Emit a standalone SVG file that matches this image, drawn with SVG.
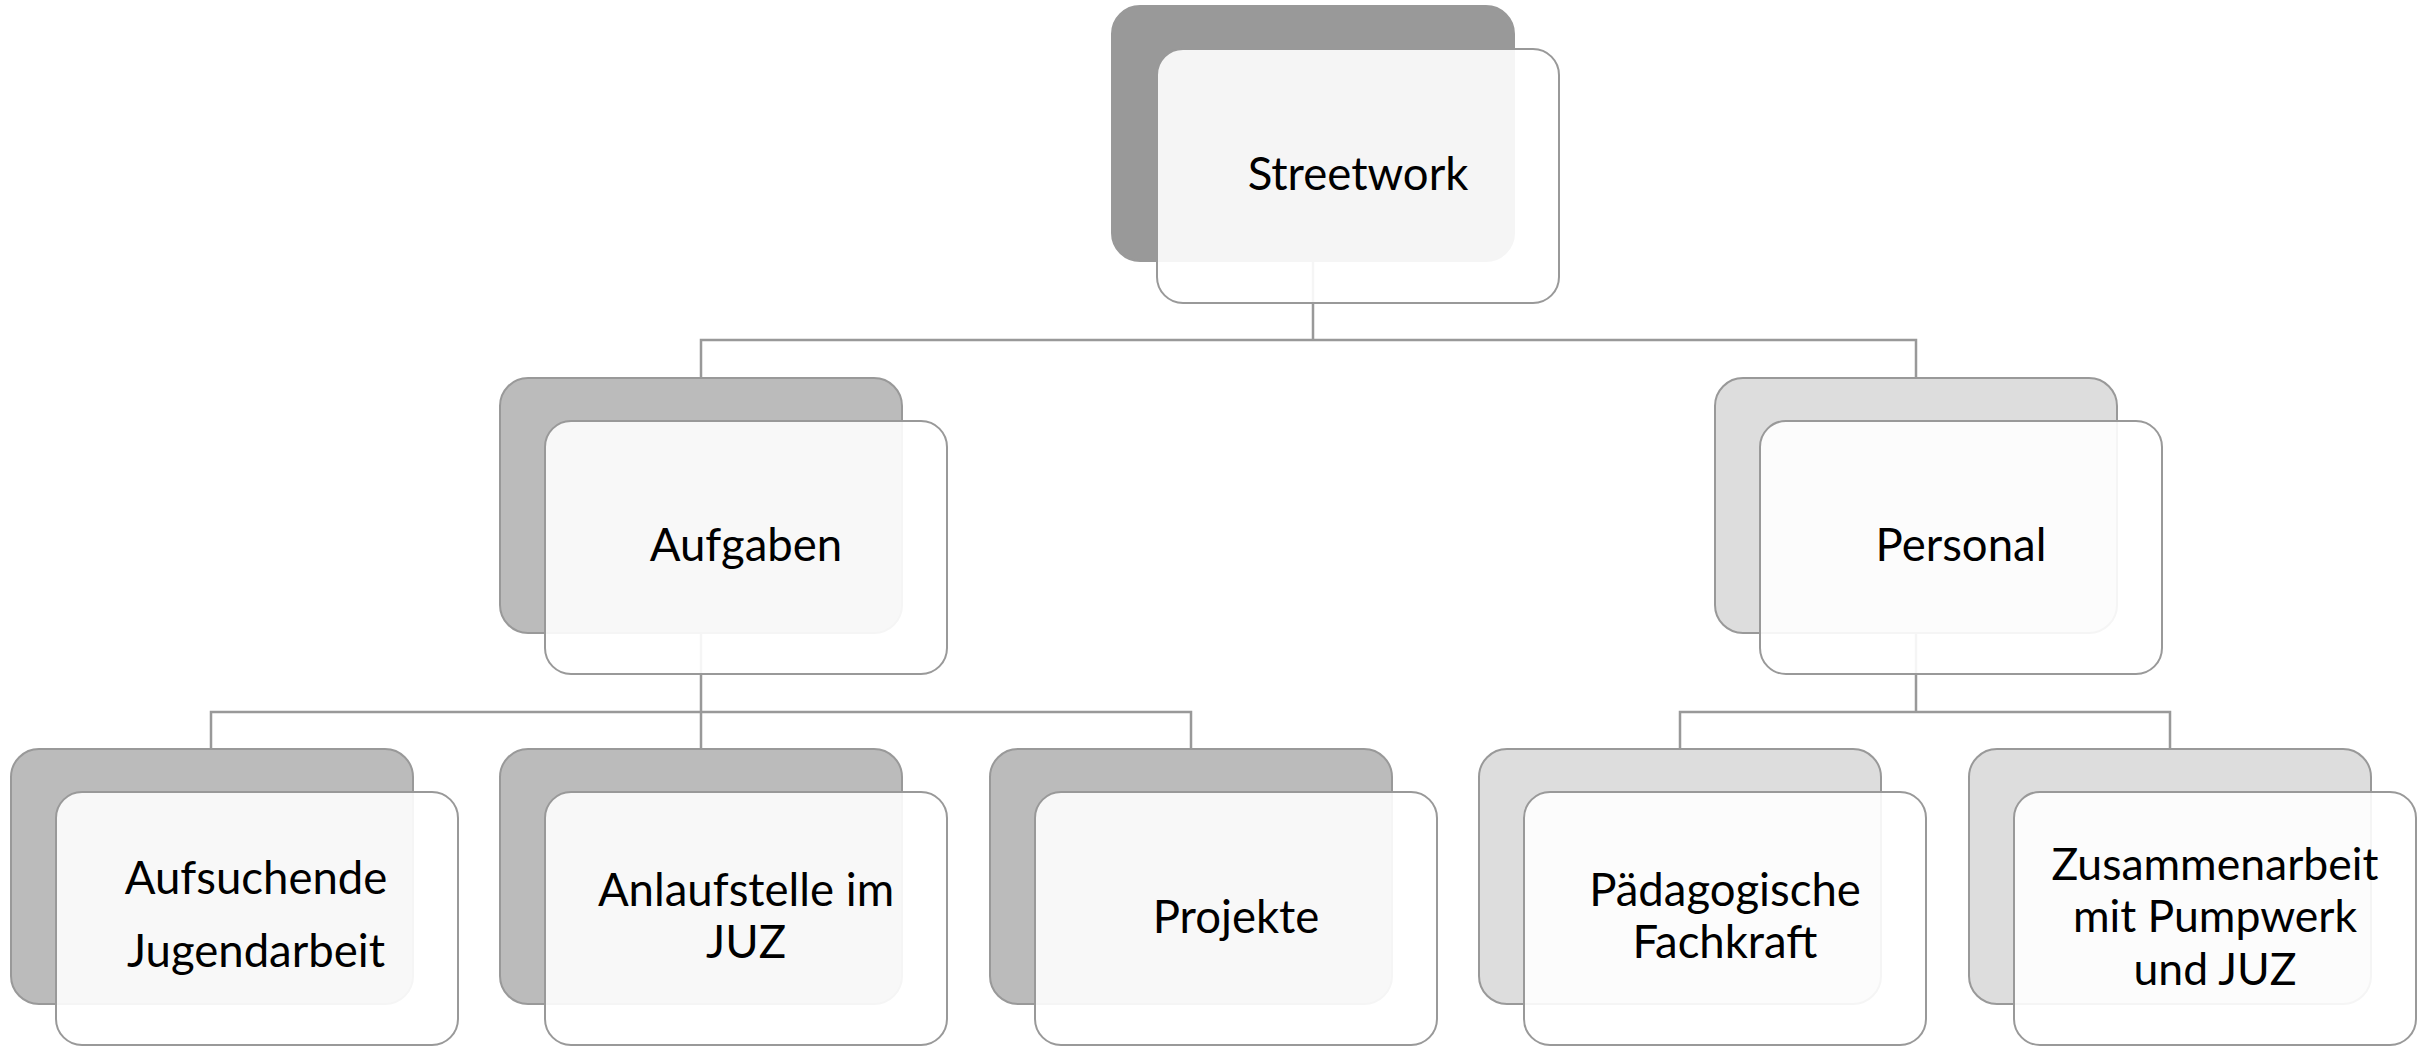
<svg xmlns="http://www.w3.org/2000/svg" width="2430" height="1048" viewBox="0 0 2430 1048">
<style>
.back{stroke:#999999;stroke-width:2}
.front{fill:#ffffff;fill-opacity:0.9;stroke:#999999;stroke-width:2}
.lbl{font-family:Lato,"Liberation Sans",sans-serif;font-size:45.5px;fill:#000000;text-anchor:middle}
.sm{font-size:44.5px}
.conn{fill:none;stroke:#999999;stroke-width:2.5}
</style>
<rect width="2430" height="1048" fill="#ffffff"/>
<g id="connectors">
<path class="conn" d="M1313,262 V340 M701,378 V340 H1916 V378"/>
<path class="conn" d="M701,633 V712 M211,749 V712 H1191 V749 M701,712 V749"/>
<path class="conn" d="M1916,633 V712 M1680,749 V712 H2170 V749"/>
</g>
<g id="n-streetwork">
<rect class="back" x="1112" y="6" width="402" height="255" rx="28" fill="#999999"/>
<rect class="front" x="1157" y="49" width="402" height="254" rx="26"/>
<text class="lbl" x="1358" y="190">Streetwork</text>
</g>
<g id="n-aufgaben">
<rect class="back" x="500" y="378" width="402" height="255" rx="28" fill="#bbbbbb"/>
<rect class="front" x="545" y="421" width="402" height="253" rx="26"/>
<text class="lbl" x="746" y="561">Aufgaben</text>
</g>
<g id="n-personal">
<rect class="back" x="1715" y="378" width="402" height="255" rx="28" fill="#dddddd"/>
<rect class="front" x="1760" y="421" width="402" height="253" rx="26"/>
<text class="lbl" x="1961" y="561">Personal</text>
</g>
<g id="n-aufsuchende">
<rect class="back" x="11" y="749" width="402" height="255" rx="28" fill="#bbbbbb"/>
<rect class="front" x="56" y="792" width="402" height="253" rx="26"/>
<text class="lbl" x="256" y="894">Aufsuchende</text>
<text class="lbl" x="256" y="967">Jugendarbeit</text>
</g>
<g id="n-anlaufstelle">
<rect class="back" x="500" y="749" width="402" height="255" rx="28" fill="#bbbbbb"/>
<rect class="front" x="545" y="792" width="402" height="253" rx="26"/>
<text class="lbl" x="746" y="906">Anlaufstelle im</text>
<text class="lbl" x="746" y="958">JUZ</text>
</g>
<g id="n-projekte">
<rect class="back" x="990" y="749" width="402" height="255" rx="28" fill="#bbbbbb"/>
<rect class="front" x="1035" y="792" width="402" height="253" rx="26"/>
<text class="lbl" x="1236" y="933">Projekte</text>
</g>
<g id="n-paedagogische">
<rect class="back" x="1479" y="749" width="402" height="255" rx="28" fill="#dddddd"/>
<rect class="front" x="1524" y="792" width="402" height="253" rx="26"/>
<text class="lbl" x="1725" y="906">Pädagogische</text>
<text class="lbl" x="1725" y="958">Fachkraft</text>
</g>
<g id="n-zusammenarbeit">
<rect class="back" x="1969" y="749" width="402" height="255" rx="28" fill="#dddddd"/>
<rect class="front" x="2014" y="792" width="402" height="253" rx="26"/>
<text class="lbl sm" x="2215" y="880">Zusammenarbeit</text>
<text class="lbl sm" x="2215" y="932">mit Pumpwerk</text>
<text class="lbl sm" x="2215" y="985">und JUZ</text>
</g>
</svg>
